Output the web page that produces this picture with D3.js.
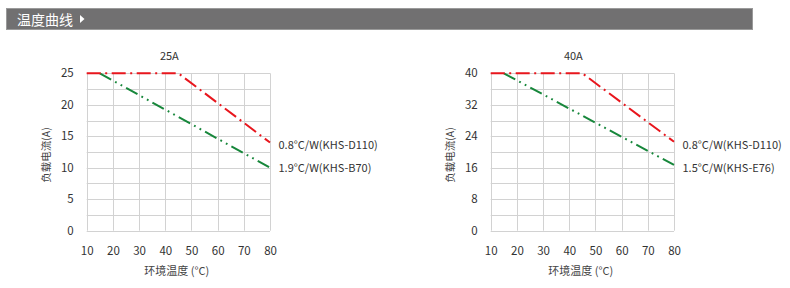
<!DOCTYPE html>
<html>
<head>
<meta charset="utf-8">
<script src="https://cdn.jsdelivr.net/npm/d3@7"></script>
<style>
  html, body { margin: 0; padding: 0; background: #fff; }
  svg { display: block; font-family: "Noto Sans CJK SC", "Noto Sans", sans-serif; }
</style>
</head>
<body>
<div id="chart"></div>
<script>
// ── data ──
const xTicks = [10, 20, 30, 40, 50, 60, 70, 80];

const titles = ["25A", "40A"];
const yTicks25 = [0, 5, 10, 15, 20, 25];
const yTicks40 = [0, 8, 16, 24, 32, 40];

// [ambient temp, load current]
const red25 = [[10, 25], [45, 25], [80, 14]];
const green25 = [[15, 25], [80, 10]];
const red40 = [[10, 40], [45, 40], [80, 22.6]];
const green40 = [[15, 40], [80, 16.7]];

const labels25 = ["0.8°C/W(KHS-D110)", "1.9°C/W(KHS-B70)"];
const labels40 = ["0.8°C/W(KHS-D110)", "1.5°C/W(KHS-E76)"];

const panels = [
  { title: titles[0], yTicks: yTicks25, red: red25, green: green25, labels: labels25, x0: 86.7 },
  { title: titles[1], yTicks: yTicks40, red: red40, green: green40, labels: labels40, x0: 490.7 },
];

const W = 790, H = 288;
const plotW = 183.3, plotTop = 73.3, plotBottom = 230.7;
const RED = "#e8161d", GREEN = "#17873b", TXT = "#333";
const FS = "11px";

const svg = d3.select("#chart").append("svg").attr("width", W).attr("height", H);

// ── header bar ──
svg.append("rect")
  .attr("x", 6.5).attr("y", 8.5).attr("width", 746).attr("height", 21)
  .attr("fill", "#717071").attr("stroke", "#9a9a9a").attr("stroke-width", 1);
svg.append("text")
  .attr("x", 17).attr("y", 24.5)
  .attr("fill", "#fff").style("font-size", "14px")
  .text("温度曲线");
svg.append("path")
  .attr("d", "M80,15 L84.5,19 L80,23 Z")
  .attr("fill", "#fff");

// ── panels ──
panels.forEach((p) => {
  const x = d3.scaleLinear().domain([10, 80]).range([p.x0, p.x0 + plotW]);
  const yMax = d3.max(p.yTicks);
  const y = d3.scaleLinear().domain([0, yMax]).range([plotBottom, plotTop]);
  const step = p.yTicks[1] - p.yTicks[0];
  const gridY = d3.range(0, yMax + step / 4, step / 2);

  const g = svg.append("g");

  // grid
  g.append("g").selectAll("line")
    .data(gridY).enter().append("line")
    .attr("x1", x(10)).attr("x2", x(80))
    .attr("y1", (d) => Math.round(y(d)) + 0.5).attr("y2", (d) => Math.round(y(d)) + 0.5)
    .attr("stroke", "#d2d2d2").attr("stroke-width", 1);
  g.append("g").selectAll("line")
    .data(xTicks).enter().append("line")
    .attr("x1", (d) => Math.round(x(d)) + 0.5).attr("x2", (d) => Math.round(x(d)) + 0.5)
    .attr("y1", y(yMax)).attr("y2", y(0))
    .attr("stroke", "#d2d2d2").attr("stroke-width", 1);

  // axes (labels only)
  const yAxis = g.append("g")
    .attr("transform", `translate(${p.x0 - 5},0)`)
    .call(d3.axisLeft(y).tickValues(p.yTicks).tickSize(0).tickPadding(8));
  const xAxis = g.append("g")
    .attr("transform", `translate(0,${plotBottom + 8})`)
    .call(d3.axisBottom(x).tickValues(xTicks).tickSize(0).tickPadding(8));
  [yAxis, xAxis].forEach((a) => {
    a.select(".domain").remove();
    a.selectAll("text").attr("fill", TXT).style("font-size", "11.5px")
      .style("font-family", "'Noto Sans CJK SC', sans-serif");
  });

  // lines
  const line = d3.line().x((d) => x(d[0])).y((d) => y(d[1]));
  g.append("path").datum(p.green).attr("d", line)
    .attr("fill", "none").attr("stroke", GREEN).attr("stroke-width", 2)
    .attr("stroke-dasharray", "13,4.5,1.8,4.5,1.8,4.5");
  g.append("path").datum(p.red).attr("d", line)
    .attr("fill", "none").attr("stroke", RED).attr("stroke-width", 2)
    .attr("stroke-dasharray", "14,4.5,2,4.5");

  // title
  g.append("text")
    .attr("x", p.x0 + plotW / 2 - 9).attr("y", 59.5)
    .attr("text-anchor", "middle").attr("fill", TXT).style("font-size", FS)
    .text(p.title);

  // axis titles
  g.append("text")
    .attr("x", p.x0 + plotW / 2 - 1.5).attr("y", 274.5)
    .attr("text-anchor", "middle").attr("fill", "#444").style("font-size", FS)
    .text("环境温度 (°C)");
  g.append("text")
    .attr("transform", `translate(${p.x0 - 37},${(plotTop + plotBottom) / 2 + 3}) rotate(-90)`)
    .attr("text-anchor", "middle").attr("fill", "#444").style("font-size", "10.5px")
    .text("负载电流(A)");

  // series labels
  g.selectAll(".lbl").data(p.labels).enter().append("text")
    .attr("class", "lbl")
    .attr("x", x(80) + 8.5)
    .attr("y", (d, i) => [148.5, 172][i])
    .attr("fill", TXT).style("font-size", FS)
    .text((d) => d);
});
</script>
</body>
</html>
